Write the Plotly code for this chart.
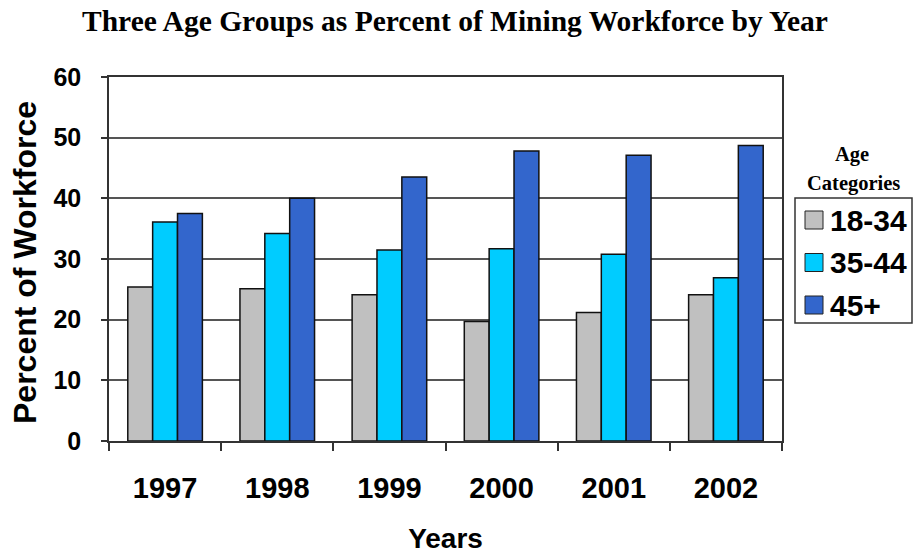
import plotly.graph_objects as go

# Data
years = ["1997", "1998", "1999", "2000", "2001", "2002"]
age_groups = ["18-34", "35-44", "45+"]
pct_18_34 = [25.4, 25.1, 24.1, 19.7, 21.2, 24.1]
pct_35_44 = [36.1, 34.2, 31.5, 31.7, 30.8, 26.9]
pct_45_plus = [37.5, 40.0, 43.5, 47.8, 47.1, 48.7]
y_ticks = [0, 10, 20, 30, 40, 50, 60]

colors = ["#C0C0C0", "#00CCFF", "#3366CC"]
series = [pct_18_34, pct_35_44, pct_45_plus]

W, H = 914, 554
L, R, T, B = 109, 132, 77, 113

SANS = "Liberation Sans, Arial, sans-serif"
SERIF = "Liberation Serif, Times New Roman, serif"

fig = go.Figure()
for name, vals, col in zip(age_groups, series, colors):
    fig.add_trace(go.Bar(
        x=years, y=vals, name=name,
        marker=dict(color=col, line=dict(color="#111111", width=1.5)),
        showlegend=False,
    ))

# helpers: pixel position -> paper coordinates (for the legend box and side title)
def px(xp):
    return (xp - L) / (W - L - R)

def py(yp):
    return (H - B - yp) / (H - T - B)

shapes = [dict(type="rect", xref="paper", yref="paper",
               x0=px(795), x1=px(912), y0=py(323), y1=py(198),
               line=dict(color="#333333", width=1.5), fillcolor="white")]
annotations = [
    dict(text="<b>Percent of Workforce</b>", xref="paper", yref="paper",
         x=px(25), y=py(263), textangle=-90, showarrow=False,
         xanchor="center", yanchor="middle",
         font=dict(family=SANS, size=32, color="black")),
    dict(text="<b>Age</b>", xref="paper", yref="paper", x=px(852), y=py(154),
         showarrow=False, xanchor="center", yanchor="middle",
         font=dict(family=SERIF, size=20.5, color="black")),
    dict(text="<b>Categories</b>", xref="paper", yref="paper", x=px(853), y=py(183),
         showarrow=False, xanchor="center", yanchor="middle",
         font=dict(family=SERIF, size=20.5, color="black")),
]
for i, (name, col) in enumerate(zip(age_groups, colors)):
    cy = 220 + i * 42.5
    shapes.append(dict(type="rect", xref="paper", yref="paper",
                       x0=px(805), x1=px(823), y0=py(cy + 9), y1=py(cy - 9),
                       fillcolor=col, line=dict(color="#222222", width=1)))
    annotations.append(dict(text=f"<b>{name}</b>", xref="paper", yref="paper",
                            x=px(828), y=py(cy), showarrow=False,
                            xanchor="left", yanchor="middle",
                            font=dict(family=SANS, size=30, color="black")))

fig.update_layout(
    width=W, height=H,
    margin=dict(l=L, r=R, t=T, b=B, autoexpand=False),
    paper_bgcolor="white", plot_bgcolor="white",
    barmode="group", bargap=0.335, bargroupgap=0,
    title=dict(text="<b>Three Age Groups as Percent of Mining Workforce by Year</b>",
               x=455 / W, xanchor="center", y=1 - 21 / H, yanchor="middle",
               font=dict(family=SERIF, size=29.5, color="black")),
    xaxis=dict(
        type="category", tickson="boundaries", ticks="outside", ticklen=8,
        tickcolor="#333333", tickwidth=1.5, automargin=False,
        showline=True, linecolor="#333333", linewidth=1.5, mirror=True,
        ticklabelstandoff=20,
        tickfont=dict(family=SANS, size=29, color="black", weight="bold"),
        title=dict(text="<b>Years</b>", standoff=28,
                   font=dict(family=SANS, size=28, color="black")),
    ),
    yaxis=dict(
        range=[0, 60], tickvals=y_ticks, ticks="outside", ticklen=6,
        tickcolor="#333333", tickwidth=1.5, automargin=False,
        showline=True, linecolor="#333333", linewidth=1.5, mirror=True,
        showgrid=True, gridcolor="#555555", gridwidth=1.5,
        zeroline=False,
        ticklabelstandoff=15,
        tickfont=dict(family=SANS, size=25, color="black", weight="bold"),
    ),
    shapes=shapes,
    annotations=annotations,
)

fig.write_html("out.html")
